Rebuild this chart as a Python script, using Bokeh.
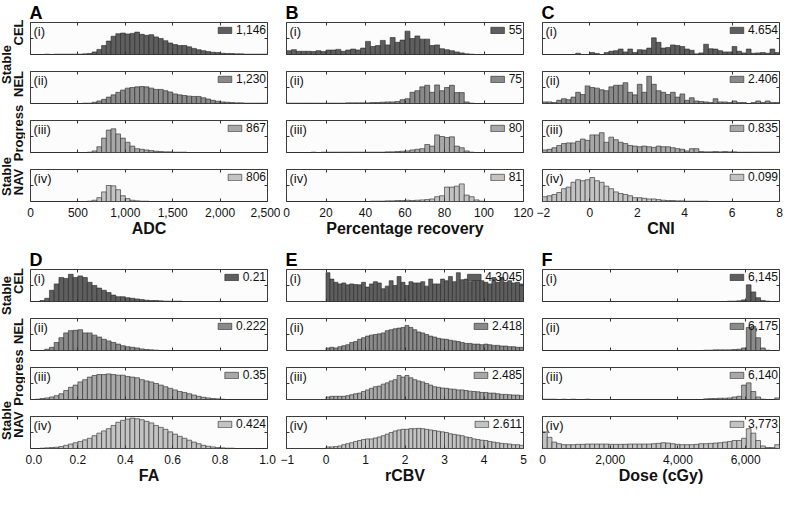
import math
from bokeh.plotting import figure
from bokeh.models import (ColumnDataSource, Range1d, LinearAxis, FixedTicker, Label,
                          Legend, LegendItem, NumeralTickFormatter)
from bokeh.layouts import row, column
from bokeh.core.properties import value
from bokeh.embed import file_html
from bokeh.resources import INLINE

FONT = "Liberation Sans"
GROUPS = ["CEL", "NEL", "Progress", "NAV"]
ROMAN = ["(i)", "(ii)", "(iii)", "(iv)"]
BAR_COLORS = ["#5e5e5e", "#8a8a8a", "#a8a8a8", "#c3c3c3"]

# ---------------- data (bar heights in % of the axis height) ----------------
# A: ADC, bins of 50 from 0
A_CEL = [0,0,0,1,0,1,1,1,1,1, 1,2,3,8,16,28,42,57,65,67, 64,66,70,63,60,62,55,50,43,36,
         31,28,28,24,19,15,12,9,7,6, 4,3,3,2,2,1,1,1,1,1]
A_NEL = [0,0,0,0,0,0,0,0,0,0, 0,1,1,4,8,13,20,27,35,42, 48,50,52,53,52,48,44,44,40,36,
         30,27,25,23,22,22,18,14,10,7, 5,4,3,2,2,1,1,1,1,1]
A_PRO = [0,0,0,0,0,0,0,0,0,0, 0,0,1,5,18,45,70,74,58,45, 32,20,12,10,8,6,4,3,2,2,
         1,1,1,0,0,0,0,0,0,0, 0,0,0,0,0,0,0,0,0,0]
A_NAV = [0,0,0,0,0,0,0,0,0,0, 0,0,1,4,12,30,50,49,37,18, 9,4,2,1,1,0,0,0,0,0,
         0,0,0,0,0,0,0,0,0,0, 0,0,0,0,0,0,0,0,0,0]
A_MEANS = ["1,146", "1,230", "867", "806"]

# B: Percentage recovery, bins of 2.5 from 0
B_CEL = [12,15,10,10,10,9,12,9,14,14, 16,10,14,17,14,20,41,25,28,44, 30,53,38,45,73,50,58,48,48,28,
         30,18,15,12,8,5,2,1,0,0, 0,0,0,0,0,0,0,0]
B_NEL = [1,1,1,1,1,1,1,1,1,1, 1,1,2,2,2,2,2,3,3,4, 5,5,6,12,15,35,40,52,57,35,
         58,40,50,57,34,34,5,1,0,0, 0,0,0,0,0,0,0,0]
B_PRO = [0,0,0,0,0,1,0,1,1,1, 1,1,1,1,1,1,1,1,1,1, 2,2,3,4,5,8,10,12,25,20,
         55,50,47,49,20,15,5,1,0,0, 0,0,0,0,0,0,0,0]
B_NAV = [0,0,0,0,0,0,0,0,0,0, 0,0,0,0,0,0,0,1,1,1, 2,2,3,3,4,3,4,5,6,8,
         15,18,45,45,48,55,20,15,5,1, 0,0,0,0,0,0,0,0]
B_MEANS = ["55", "75", "80", "81"]

# C: CNI, bins of 0.2 from -2
C_CEL = [0,0,0,0,0,0,0,4,0,0, 6,3,0,6,10,12,17,8,17,6, 15,14,20,52,38,20,22,30,28,25,
         17,13,2,5,32,18,17,12,8,8, 25,10,5,17,4,5,6,4,17,6]
C_NEL = [5,5,3,10,15,12,20,35,28,55, 50,48,43,40,52,57,57,65,35,27, 60,35,85,60,40,35,28,35,20,30,
         10,18,8,6,5,3,15,5,5,3, 8,3,3,0,3,8,3,8,3,3]
C_PRO = [8,10,15,22,28,30,30,35,42,38, 55,55,62,32,48,40,32,28,22,20, 18,20,18,16,20,18,18,15,12,10,
         5,12,12,3,2,2,3,2,3,2, 2,1,1,1,1,1,1,1,1,1]
C_NAV = [15,18,22,28,40,45,60,68,65,68, 75,65,60,48,40,30,25,22,18,12, 12,10,8,8,6,4,3,3,2,2,
         1,1,1,1,1,0,0,0,0,0, 0,0,0,0,0,0,0,0,0,0]
C_MEANS = ["4.654", "2.406", "0.835", "0.099"]

# D: FA, bins of 0.02 from 0
D_CEL = [0,0,3,10,35,55,75,72,85,75, 80,75,60,50,42,35,28,20,15,15, 12,10,8,6,4,3,3,2,1,1,
         1,1,0,0,0,0,0,0,0,0, 0,0,0,0,0,0,0,0,0,0]
D_NEL = [0,0,0,4,10,25,40,55,62,63, 65,55,55,48,42,35,30,25,20,15, 12,10,8,5,3,2,1,0,0,0,
         0,0,0,0,0,0,0,0,0,0, 0,0,0,0,0,0,0,0,0,0]
D_PRO = [0,1,3,5,8,12,18,28,38,45, 55,62,70,75,78,78,80,78,76,76, 72,70,68,62,58,55,50,45,40,35,
         30,25,22,18,14,10,7,5,3,2, 1,0,0,0,0,0,0,0,0,0]
D_NAV = [0,0,1,2,3,4,6,10,14,18, 22,27,32,40,48,55,62,72,82,88, 92,95,93,90,85,80,72,66,60,52,
         45,38,32,26,20,15,10,7,5,3, 2,1,1,0,0,0,0,0,0,0]
D_MEANS = ["0.21", "0.222", "0.35", "0.424"]

# E: rCBV, bins of 0.1 from 0
E_CEL = [90,70,60,55,58,52,55,53,52,60, 45,55,62,58,40,48,65,50,78,60, 50,62,58,58,62,48,70,55,55,70,
         65,78,62,90,68,70,62,68,72,65, 60,55,75,60,75,60,65,58,60,55]
E_NEL = [8,10,8,12,15,18,25,28,35,40, 45,48,50,52,55,62,65,68,70,72, 78,72,65,58,55,50,45,42,38,36,
         35,32,30,28,25,22,22,20,20,18, 20,18,16,16,14,14,12,12,10,10]
E_PRO = [8,10,10,10,10,12,15,18,20,25, 30,35,40,42,48,52,58,62,75,70, 75,68,62,58,55,50,45,40,38,36,
         35,33,32,30,30,28,26,25,24,22, 22,20,20,18,16,16,15,14,14,12]
E_NAV = [5,5,6,8,12,15,18,22,25,28, 30,30,33,36,40,45,50,55,58,60, 60,62,62,63,62,60,58,56,54,52,
         50,46,44,42,40,36,34,30,28,26, 25,22,20,18,16,15,14,12,12,10]
E_MEANS = ["4.3045", "2.418", "2.485", "2.611"]

# F: Dose (cGy), bins of 140 from 0
F_CEL = [0,0,0,0,0,0,0,0,0,0, 0,0,0,0,0,0,0,0,0,0, 0,0,0,0,0,0,0,0,0,0,
         0,0,0,0,0,0,0,0,0,1, 1,2,5,52,30,12,3,1,0,0]
F_NEL = [0,0,0,0,0,0,0,0,0,0, 0,0,0,0,0,0,0,0,0,0, 0,0,0,0,0,0,0,0,0,0,
         0,0,0,0,1,1,2,2,2,2, 3,4,8,72,75,40,8,1,0,0]
F_PRO = [1,1,1,0,1,0,1,0,0,1, 0,0,0,0,0,0,0,0,0,0, 0,0,0,0,0,0,0,0,0,0,
         0,0,0,0,2,3,3,4,4,5, 8,10,45,52,25,8,1,0,0,5]
F_NAV = [52,35,20,15,12,12,12,13,13,14, 14,14,14,14,13,13,13,13,14,14, 14,14,14,15,16,18,17,15,13,12,
         12,12,13,15,15,16,17,18,20,22, 25,25,32,62,48,25,8,3,3,12]
F_MEANS = ["6,145", "6,175", "6,140", "3,773"]

PANELS = [
    dict(letter="A", xlabel="ADC", x0=0, bw=50, xr=(0, 2500),
         ticks=[0, 500, 1000, 1500, 2000, 2500], fmt="0,0", over={},
         means=A_MEANS, series=[A_CEL, A_NEL, A_PRO, A_NAV]),
    dict(letter="B", xlabel="Percentage recovery", x0=0, bw=2.5, xr=(0, 120),
         ticks=[0, 20, 40, 60, 80, 100, 120], fmt="0", over={},
         means=B_MEANS, series=[B_CEL, B_NEL, B_PRO, B_NAV]),
    dict(letter="C", xlabel="CNI", x0=-2, bw=0.2, xr=(-2, 8),
         ticks=[-2, 0, 2, 4, 6, 8], fmt="0", over={-2: "\u22122"},
         means=C_MEANS, series=[C_CEL, C_NEL, C_PRO, C_NAV]),
    dict(letter="D", xlabel="FA", x0=0, bw=0.02, xr=(0, 1),
         ticks=[0, 0.2, 0.4, 0.6, 0.8, 1.0], fmt="0.0", over={},
         means=D_MEANS, series=[D_CEL, D_NEL, D_PRO, D_NAV]),
    dict(letter="E", xlabel="rCBV", x0=0, bw=0.1, xr=(-1, 5),
         ticks=[-1, 0, 1, 2, 3, 4, 5], fmt="0", over={-1: "\u22121"},
         means=E_MEANS, series=[E_CEL, E_NEL, E_PRO, E_NAV]),
    dict(letter="F", xlabel="Dose (cGy)", x0=0, bw=140, xr=(0, 7000),
         ticks=[0, 2000, 4000, 6000], fmt="0,0", over={},
         means=F_MEANS, series=[F_CEL, F_NEL, F_PRO, F_NAV]),
]

# ---------------- layout constants ----------------
FW, FH = 237, 32
SIDE_W = 25
TOP_FIRST = [22, 27]
GAP_TOP, GAP_BOT = 8, 9
BOT_LAST = 41

# side label offsets (px, relative to the centre of the matching frame)
SIDE_OFFSETS = [
    dict(group=[-6, -3.5, -3.5, -3.5], stable=[26, -9]),
    dict(group=[-4.5, -3.5, -6, -8], stable=[10, -12]),
]


def style_axis(ax, ticker, labels=False):
    ax.ticker = ticker
    ax.axis_line_color = None
    ax.major_tick_in = 3
    ax.major_tick_out = 0
    ax.major_tick_line_color = "#333333"
    ax.minor_tick_line_color = None
    if not labels:
        ax.major_label_text_font_size = "0px"
        ax.major_label_standoff = 0


def make_subplot(pn, i, col, rowi):
    left = 5 if col == 0 else 6
    right = 4 if col == 2 else 13
    top = TOP_FIRST[rowi] if i == 0 else GAP_TOP
    bottom = BOT_LAST if i == 3 else GAP_BOT
    p = figure(frame_width=FW, frame_height=FH,
               x_range=Range1d(*pn["xr"]), y_range=Range1d(0, 100),
               min_border_left=left, min_border_right=right,
               min_border_top=top, min_border_bottom=bottom,
               title=(pn["letter"] if i == 0 else None),
               output_backend="svg", toolbar_location=None, tools="")
    if i == 0:
        p.title.text_font = FONT
        p.title.text_font_size = "18px"
        p.title.text_font_style = "bold"
        p.title.text_color = "black"
        p.title.align = "left"
        p.title.standoff = 0
        p.title.offset = -1
    p.grid.visible = False
    p.background_fill_color = "#fcfcfc"
    p.border_fill_color = "white"
    p.outline_line_color = "#3c3c3c"
    p.outline_line_width = 1

    counts = pn["series"][i]
    lefts = [pn["x0"] + k * pn["bw"] for k in range(len(counts))]
    src = ColumnDataSource(dict(left=lefts, right=[v + pn["bw"] for v in lefts],
                                top=counts, bottom=[0] * len(counts)))
    r = p.quad(left="left", right="right", top="top", bottom="bottom", source=src,
               fill_color=BAR_COLORS[i], line_color="#262626", line_width=0.6)

    xt = FixedTicker(ticks=pn["ticks"])
    yt = FixedTicker(ticks=[50])
    bx = p.xaxis[0]
    style_axis(bx, xt, labels=(i == 3))
    if i == 3:
        bx.formatter = NumeralTickFormatter(format=pn["fmt"])
        if pn["over"]:
            bx.major_label_overrides = pn["over"]
        bx.major_label_text_font = FONT
        bx.major_label_text_font_size = "12px"
        bx.major_label_text_color = "#111111"
        bx.major_label_standoff = 6
        bx.axis_label = pn["xlabel"]
        bx.axis_label_text_font = FONT
        bx.axis_label_text_font_size = "16px"
        bx.axis_label_text_font_style = "bold"
        bx.axis_label_text_color = "#111111"
        bx.axis_label_standoff = 0
    style_axis(p.yaxis[0], yt)
    tx = LinearAxis()
    style_axis(tx, FixedTicker(ticks=pn["ticks"]))
    p.add_layout(tx, "above")
    ry = LinearAxis()
    style_axis(ry, FixedTicker(ticks=[50]))
    p.add_layout(ry, "right")

    leg = Legend(items=[LegendItem(label=value(pn["means"][i]), renderers=[r])],
                 location="top_right", glyph_width=17, glyph_height=8,
                 label_text_font=FONT, label_text_font_size="12px", label_text_color="#111111",
                 label_standoff=3, label_height=12, label_width=10,
                 padding=2, margin=1, spacing=0,
                 border_line_color=None, background_fill_alpha=0)
    p.add_layout(leg)

    p.add_layout(Label(x=3, y=FH - 1, x_units="screen", y_units="screen", text=ROMAN[i],
                       text_baseline="top", text_font=FONT, text_font_size="13px",
                       text_color="#111111"))
    return p


def make_side(rowi):
    tops = []
    y = 0
    for i in range(4):
        t = TOP_FIRST[rowi] if i == 0 else GAP_TOP
        b = BOT_LAST if i == 3 else GAP_BOT
        tops.append(y + t)
        y += t + FH + b
    H = y
    centers = [tp + FH / 2 for tp in tops]
    off = SIDE_OFFSETS[rowi]
    xs, ys, txt = [], [], []
    for i in range(4):
        xs.append(18)
        ys.append(H - (centers[i] + off["group"][i]))
        txt.append(GROUPS[i])
    xs += [6, 6]
    ys += [H - (centers[0] + off["stable"][0]), H - (centers[3] + off["stable"][1])]
    txt += ["Stable", "Stable"]
    p = figure(width=SIDE_W, height=H, x_range=Range1d(0, SIDE_W), y_range=Range1d(0, H),
               min_border=0, x_axis_location=None, y_axis_location=None,
               output_backend="svg", toolbar_location=None, tools="")
    p.grid.visible = False
    p.outline_line_color = None
    p.background_fill_color = "white"
    p.text(x=xs, y=ys, text=txt, angle=math.pi / 2, text_align="center",
           text_baseline="middle", text_font=value(FONT), text_font_style="bold",
           text_font_size="13px", text_color="#111111")
    return p


rows = []
for rowi in range(2):
    cols = [make_side(rowi)]
    for col in range(3):
        pn = PANELS[rowi * 3 + col]
        cols.append(column([make_subplot(pn, i, col, rowi) for i in range(4)], spacing=0))
    rows.append(row(cols, spacing=0))

layout = column(rows, spacing=0)

with open("out.html", "w") as f:
    f.write(file_html(layout, INLINE))
